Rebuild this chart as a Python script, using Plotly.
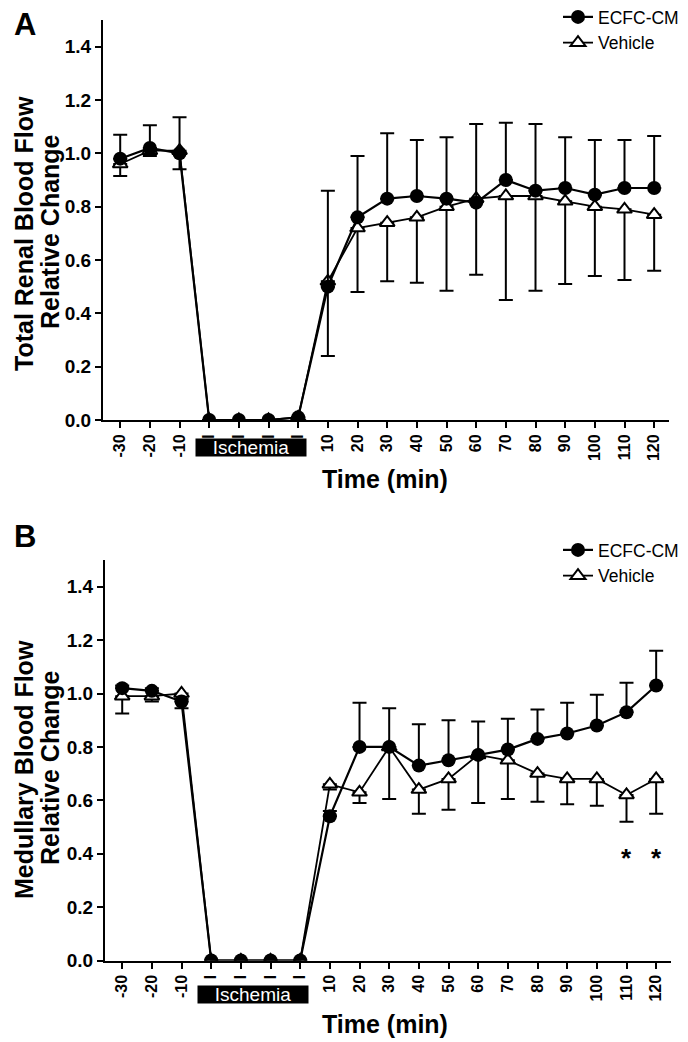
import plotly.graph_objects as go

# x categories (minutes); the four ischemia points carry a short bar instead of a number
TIME_TICKS = ["-30", "-20", "-10", "I", "I", "I", "I", "10", "20", "30", "40",
              "50", "60", "70", "80", "90", "100", "110", "120"]
X_IDX = list(range(len(TIME_TICKS)))

# Panel A - total renal blood flow
A_ECFC = [0.98, 1.02, 1.00, 0.0, 0.0, 0.0, 0.01, 0.50, 0.76, 0.83, 0.84, 0.83,
          0.815, 0.90, 0.86, 0.87, 0.845, 0.87, 0.87]
A_ECFC_SEM = [0.09, 0.085, 0.135, 0, 0, 0, 0, 0.36, 0.23, 0.245, 0.21, 0.23,
              0.295, 0.215, 0.25, 0.19, 0.205, 0.18, 0.195]
A_VEH = [0.96, 1.01, 1.01, 0.0, 0.0, 0.0, 0.01, 0.52, 0.72, 0.74, 0.76, 0.80,
         0.83, 0.84, 0.84, 0.82, 0.80, 0.79, 0.77]
A_VEH_SEM = [0.045, 0.02, 0.07, 0, 0, 0, 0, 0.28, 0.24, 0.22, 0.245, 0.315,
             0.285, 0.39, 0.355, 0.31, 0.26, 0.265, 0.21]

# Panel B - medullary blood flow
B_ECFC = [1.02, 1.01, 0.97, 0.0, 0.0, 0.0, 0.0, 0.54, 0.80, 0.80, 0.73, 0.75,
          0.77, 0.79, 0.83, 0.85, 0.88, 0.93, 1.03]
B_ECFC_SEM = [0.01, 0.01, 0.01, 0, 0, 0, 0, 0.02, 0.165, 0.145, 0.155, 0.15,
              0.125, 0.115, 0.11, 0.115, 0.115, 0.11, 0.13]
B_VEH = [0.99, 0.99, 1.00, 0.0, 0.0, 0.0, 0.0, 0.66, 0.63, 0.80, 0.64, 0.68,
         0.77, 0.75, 0.70, 0.68, 0.68, 0.62, 0.68]
B_VEH_SEM = [0.065, 0.02, 0.055, 0, 0, 0, 0, 0.02, 0.04, 0.195, 0.09, 0.115,
             0.18, 0.145, 0.105, 0.095, 0.10, 0.10, 0.13]

SIG_IDX = [17, 18]   # 110 and 120 min
SIG_Y = 0.385

FONT = "Liberation Sans, Arial, sans-serif"
# page body has an 8px margin, so the figure is 8px smaller than the window
OFF = 8
W, H = 688 - OFF, 1042 - OFF
ZEROS = [0] * len(X_IDX)


def px(x):
    return (x - OFF) / W


def py(y):
    return 1 - (y - OFF) / H


def _add_pair(fig, ecfc, ecfc_sem, veh, veh_sem, xa, ya, legend):
    # vehicle drawn first so the filled circles sit on top
    fig.add_trace(go.Scatter(
        x=X_IDX, y=veh, name="Vehicle", xaxis=xa, yaxis=ya, legend=legend,
        legendrank=2, mode="lines+markers",
        line=dict(color="black", width=1.8),
        marker=dict(symbol="triangle-up", size=13, color="white",
                    line=dict(color="black", width=2)),
        error_y=dict(type="data", symmetric=False, array=ZEROS,
                     arrayminus=veh_sem, color="black", thickness=2, width=7),
    ))
    fig.add_trace(go.Scatter(
        x=X_IDX, y=ecfc, name="ECFC-CM", xaxis=xa, yaxis=ya, legend=legend,
        legendrank=1, mode="lines+markers",
        line=dict(color="black", width=2.2),
        marker=dict(symbol="circle", size=14, color="black"),
        error_y=dict(type="data", symmetric=False, array=ecfc_sem,
                     arrayminus=ZEROS, color="black", thickness=2, width=7),
    ))


fig = go.Figure()
_add_pair(fig, A_ECFC, A_ECFC_SEM, A_VEH, A_VEH_SEM, "x", "y", "legend")
_add_pair(fig, B_ECFC, B_ECFC_SEM, B_VEH, B_VEH_SEM, "x2", "y2", "legend2")

title_font = dict(family=FONT, size=25, color="black", weight="bold")

xaxis_base = dict(
    range=[-0.58, 18.5], tickvals=X_IDX, ticktext=TIME_TICKS, tickangle=-90,
    showline=True, linecolor="black", linewidth=2, ticks="outside",
    ticklen=6, tickwidth=2, tickcolor="black", showgrid=False, zeroline=False,
    automargin=False,
    tickfont=dict(family=FONT, size=16, color="black", weight="bold"),
)
yaxis_base = dict(
    range=[0, 1.5], tickvals=[0, 0.2, 0.4, 0.6, 0.8, 1.0, 1.2, 1.4],
    tickformat=".1f", showline=True, linecolor="black", linewidth=2,
    ticks="outside", ticklen=6, tickwidth=2, tickcolor="black",
    showgrid=False, zeroline=False, automargin=False,
    tickfont=dict(family=FONT, size=19, color="black", weight="bold"),
)

legend_base = dict(
    xanchor="left", yanchor="top", bgcolor="rgba(0,0,0,0)", tracegroupgap=0,
    font=dict(family=FONT, size=17.5, color="black"), itemwidth=30,
)

fig.update_layout(
    width=W, height=H, autosize=False,
    margin=dict(l=0, r=0, t=0, b=0, autoexpand=False),
    paper_bgcolor="white", plot_bgcolor="white",
    font=dict(family=FONT, color="black"),
    xaxis=dict(xaxis_base, domain=[px(103), px(669)], anchor="y"),
    yaxis=dict(yaxis_base, domain=[py(420), py(20)], anchor="x"),
    xaxis2=dict(xaxis_base, domain=[px(105), px(671)], anchor="y2"),
    yaxis2=dict(yaxis_base, domain=[py(960.5), py(560)], anchor="x2"),
    legend=dict(legend_base, x=px(558), y=py(18 - 19)),
    legend2=dict(legend_base, x=px(558), y=py(551 - 19)),
    showlegend=True,
)

# panel letters, axis titles (y titles as two separate lines)
texts = [
    ("A", 25, 24, 0, dict(family=FONT, size=31, color="black", weight="bold")),
    ("B", 25, 536, 0, dict(family=FONT, size=31, color="black", weight="bold")),
    ("Time (min)", 385, 479, 0, title_font),
    ("Time (min)", 385, 1024, 0, title_font),
    ("Total Renal Blood Flow", 24, 234, -90, title_font),
    ("Relative Change", 50, 232, -90, title_font),
    ("Medullary Blood Flow", 24, 770, -90, title_font),
    ("Relative Change", 50, 768, -90, title_font),
]
for text, x, y, ang, font in texts:
    fig.add_annotation(text=text, xref="paper", yref="paper", x=px(x), y=py(y),
                       xanchor="center", yanchor="middle", textangle=ang,
                       showarrow=False, font=font)

# "Ischemia" bars under the x axis
for xa, ypix in (("x", 447), ("x2", 994)):
    fig.add_annotation(text="Ischemia", xref=xa, yref="paper", x=4.4,
                       y=py(ypix), xanchor="center", yanchor="middle",
                       showarrow=False, width=108, height=15,
                       bgcolor="black", borderpad=1,
                       font=dict(family=FONT, size=19, color="white"))

for i in SIG_IDX:
    fig.add_annotation(text="*", xref="x2", yref="y2", x=i, y=SIG_Y,
                       showarrow=False, yanchor="middle",
                       font=dict(family=FONT, size=26, color="black", weight="bold"))

fig.write_html("out.html")
